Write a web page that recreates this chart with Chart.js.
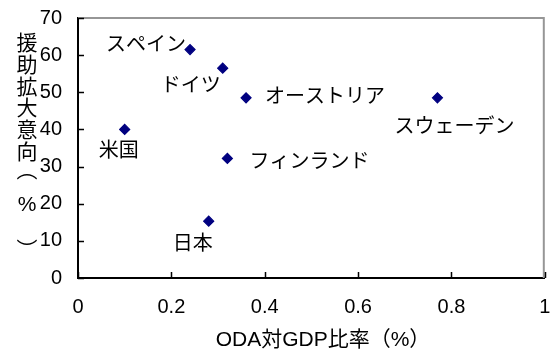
<!DOCTYPE html>
<html>
<head>
<meta charset="utf-8">
<script src="https://cdn.jsdelivr.net/npm/chart.js@4/dist/chart.umd.min.js"></script>
<style>
  html, body { margin: 0; padding: 0; background: #fff; }
  #wrap { width: 551px; height: 354px; }
</style>
</head>
<body>
<div id="wrap"><canvas id="c" width="551" height="354"></canvas></div>
<script>
// ODA/GDP ratio vs. share of public supporting more aid, by country
const countries = ['スペイン', 'ドイツ', 'オーストリア', '米国', 'フィンランド', 'スウェーデン', '日本'];
const odaRatio  = [0.24, 0.31, 0.36, 0.10, 0.32, 0.77, 0.28];
const aidIntent = [61.5, 56.5, 48.5, 40.0, 32.2, 48.5, 15.3];
const xTicks = [0, 0.2, 0.4, 0.6, 0.8, 1];
const xTickLabels = ['0', '0.2', '0.4', '0.6', '0.8', '1'];
const yTicks = [0, 10, 20, 30, 40, 50, 60, 70];
const yTickLabels = ['0', '10', '20', '30', '40', '50', '60', '70'];
const xTitle = 'ODA対GDP比率（%）';
// vertical title, written with vertical-form brackets
const yTitleText = '援助拡大意向︵%︶';

const FONT = '"Liberation Sans", "Noto Sans CJK JP", Arial, sans-serif';
const MARK = '#000080';

// where each country's name sits relative to its marker
const labelPlacement = [
  { dx: -4,  dy: -4, align: 'right'  },
  { dx: -2,  dy: 18, align: 'right'  },
  { dx: 19,  dy: 0,  align: 'left'   },
  { dx: -6,  dy: 22, align: 'center' },
  { dx: 22,  dy: 4,  align: 'left'   },
  { dx: 17,  dy: 30, align: 'center' },
  { dx: -16, dy: 23, align: 'center' }
];
// vertical title rows (baseline-middle positions; the bracket glyphs sit off-centre in their cells)
const yTitleRows = [44, 66, 88, 109, 131, 153, 171, 205, 251];

const decorations = {
  id: 'decorations',
  beforeDatasetsDraw(chart) {
    const { ctx, chartArea: a, scales } = chart;
    ctx.save();
    // plot-area frame: top and right edges
    ctx.strokeStyle = '#969696';
    ctx.lineWidth = 2;
    ctx.beginPath();
    ctx.moveTo(a.left, a.top);
    ctx.lineTo(a.right - 1, a.top);
    ctx.lineTo(a.right - 1, a.bottom);
    ctx.stroke();
    // inward tick marks
    ctx.strokeStyle = '#000';
    ctx.lineWidth = 1.5;
    ctx.beginPath();
    xTicks.forEach(v => {
      const px = Math.round(scales.x.getPixelForValue(v)) + 0.5;
      ctx.moveTo(px, a.bottom);
      ctx.lineTo(px, a.bottom - 6);
    });
    yTicks.forEach(v => {
      const py = Math.round(scales.y.getPixelForValue(v)) + 0.5;
      ctx.moveTo(a.left, py);
      ctx.lineTo(a.left + 6, py);
    });
    ctx.stroke();
    ctx.restore();
  },
  afterDraw(chart) {
    const { ctx } = chart;
    const meta = chart.getDatasetMeta(0);
    ctx.save();
    ctx.fillStyle = '#000';
    ctx.textBaseline = 'middle';
    // country names
    ctx.font = '20px ' + FONT;
    meta.data.forEach((pt, i) => {
      const p = labelPlacement[i];
      ctx.textAlign = p.align;
      ctx.fillText(countries[i], pt.x + p.dx, pt.y + p.dy);
    });
    // x-axis title
    ctx.font = '21px ' + FONT;
    ctx.textAlign = 'center';
    ctx.fillText(xTitle, 323, 340);
    // y-axis title, one character per row
    ctx.font = '21px ' + FONT;
    Array.from(yTitleText).forEach((ch, i) => {
      ctx.fillText(ch, 27, yTitleRows[i]);
    });
    ctx.restore();
  }
};

new Chart(document.getElementById('c'), {
  type: 'scatter',
  data: {
    datasets: [{
      label: '援助拡大意向',
      data: odaRatio.map((x, i) => ({ x, y: aidIntent[i] })),
      pointStyle: 'rectRot',
      pointRadius: 5,
      pointHoverRadius: 5,
      pointBorderWidth: 1.2,
      backgroundColor: MARK,
      borderColor: MARK
    }]
  },
  options: {
    responsive: false,
    animation: false,
    events: [],
    layout: { padding: { top: 18, right: 1, left: 0, bottom: 0 } },
    plugins: { legend: { display: false }, tooltip: { enabled: false } },
    scales: {
      x: {
        type: 'linear',
        min: 0, max: 1,
        afterBuildTicks: s => { s.ticks = xTicks.map(v => ({ value: v })); },
        afterFit: s => { s.height = 76; s.paddingLeft = 0; s.paddingRight = 0; },
        grid: { display: false, drawTicks: false },
        border: { display: true, color: '#000', width: 2 },
        ticks: {
          padding: 17,
          color: '#000',
          maxRotation: 0,
          autoSkip: false,
          font: { family: FONT, size: 20 },
          callback: (v, i) => xTickLabels[i]
        }
      },
      y: {
        type: 'linear',
        min: 0, max: 70,
        afterBuildTicks: s => { s.ticks = yTicks.map(v => ({ value: v })); },
        afterFit: s => { s.width = 78; s.paddingTop = 0; s.paddingBottom = 0; },
        grid: { display: false, drawTicks: false },
        border: { display: true, color: '#000', width: 2 },
        ticks: {
          padding: 16,
          color: '#000',
          autoSkip: false,
          font: { family: FONT, size: 20 },
          callback: (v, i) => yTickLabels[i]
        }
      }
    }
  },
  plugins: [decorations]
});
</script>
</body>
</html>
